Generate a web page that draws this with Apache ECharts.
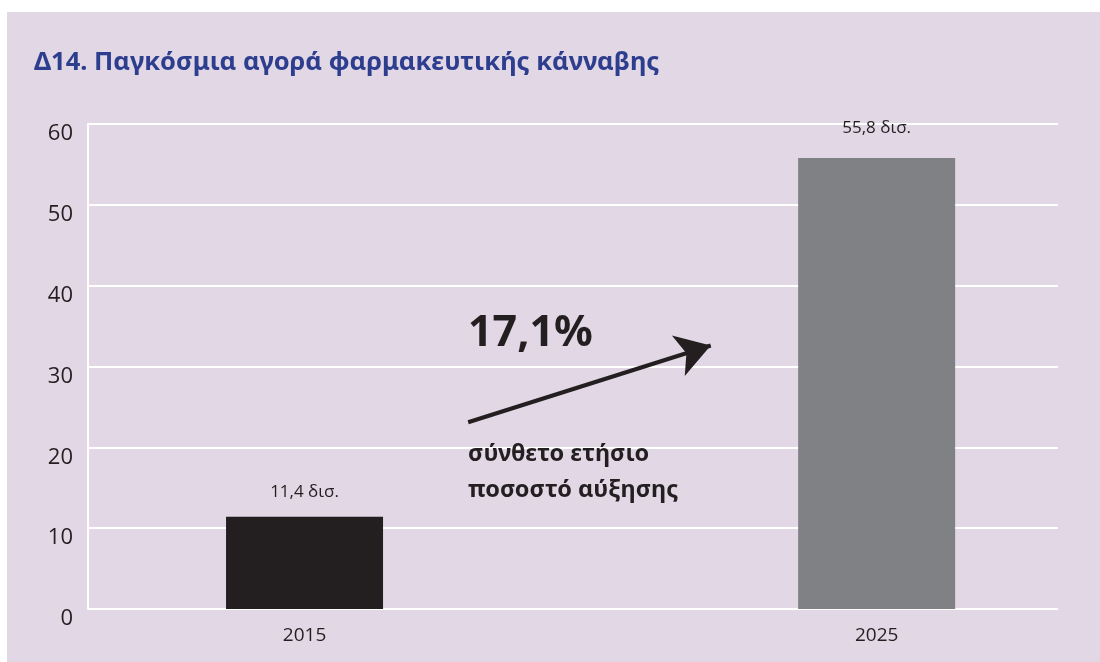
<!DOCTYPE html>
<html>
<head>
<meta charset="utf-8">
<script src="https://cdn.jsdelivr.net/npm/echarts@6/dist/echarts.min.js"></script>
<style>
  html, body { margin: 0; padding: 0; background: #ffffff; }
  #chart { position: absolute; left: 7px; top: 12px; width: 1093px; height: 650px; }
</style>
</head>
<body>
<div id="chart"></div>
<script>
const years = ["2015", "2025"];
const values = [11.4, 55.8];
const barColors = ["#231f20", "#808184"];
const yTicks = [0, 10, 20, 30, 40, 50, 60];
const growthText = "17,1%";
const growthNote = ["σύνθετο ετήσιο", "ποσοστό αύξησης"];
// arrow start/end in data units (year, value)
const arrowFrom = [2017.86, 23.1];
const arrowTo = [2022.1, 32.6];

const chart = echarts.init(document.getElementById("chart"));

const noteStyle = {
  fontFamily: "Noto Sans, sans-serif",
  fontWeight: "bold",
  fontSize: 23.5,
  fill: "#231f20",
};

const option = {
  backgroundColor: "#e1d7e5",
  animation: false,
  textStyle: { fontFamily: "Open Sans, sans-serif" },
  title: {
    text: "Δ14. Παγκόσμια αγορά φαρμακευτικής κάνναβης",
    left: 22,
    top: 33,
    textStyle: {
      fontFamily: "Noto Sans, sans-serif",
      fontWeight: "bold",
      fontSize: 25.5,
      color: "#2e3e8e",
    },
  },
  grid: { left: 81, right: 42, top: 112, bottom: 53 },
  xAxis: {
    type: "value",
    min: 2011.215,
    max: 2028.17,
    splitLine: { show: false },
    axisLine: { show: false },
    axisTick: { show: false },
    axisLabel: {
      customValues: years.map(Number),
      color: "#231f20",
      fontSize: 19,
      margin: 17,
      formatter: (v) => String(v),
    },
  },
  yAxis: {
    type: "value",
    min: 0,
    max: 60,
    interval: 10,
    axisLine: { show: true, lineStyle: { color: "#ffffff", width: 2 } },
    axisTick: { show: false },
    splitLine: { lineStyle: { color: "#ffffff", width: 2 } },
    axisLabel: {
      color: "#231f20",
      fontSize: 22,
      margin: 15,
      verticalAlign: "top",
      lineHeight: 20,
      formatter: (v) => (yTicks.includes(v) ? String(v) : ""),
    },
  },
  series: [
    {
      type: "bar",
      barWidth: 157,
      data: years.map((y, i) => ({
        value: [Number(y), values[i]],
        itemStyle: { color: barColors[i] },
        label: { distance: i === 0 ? 16 : 21 },
      })),
      label: {
        show: true,
        position: "top",
        color: "#231f20",
        fontSize: 17,
        formatter: (p) => String(p.value[1]).replace(".", ",") + " δισ.",
      },
      emphasis: { disabled: true },
      markLine: {
        silent: true,
        symbol: ["none", "arrow"],
        symbolSize: [32, 34],
        label: { show: false },
        lineStyle: { color: "#231f20", width: 4, type: "solid" },
        data: [[{ coord: arrowFrom }, { coord: arrowTo }]],
      },
    },
  ],
  graphic: [
    {
      type: "text",
      z: 100,
      left: 461,
      top: 300,
      style: {
        text: growthText,
        fontFamily: "Noto Sans, sans-serif",
        fontWeight: "bold",
        fontSize: 43,
        fill: "#231f20",
      },
    },
    { type: "text", z: 100, left: 461, top: 430, style: { ...noteStyle, text: growthNote[0] } },
    { type: "text", z: 100, left: 461, top: 466, style: { ...noteStyle, text: growthNote[1] } },
  ],
};

chart.setOption(option);
</script>
</body>
</html>
